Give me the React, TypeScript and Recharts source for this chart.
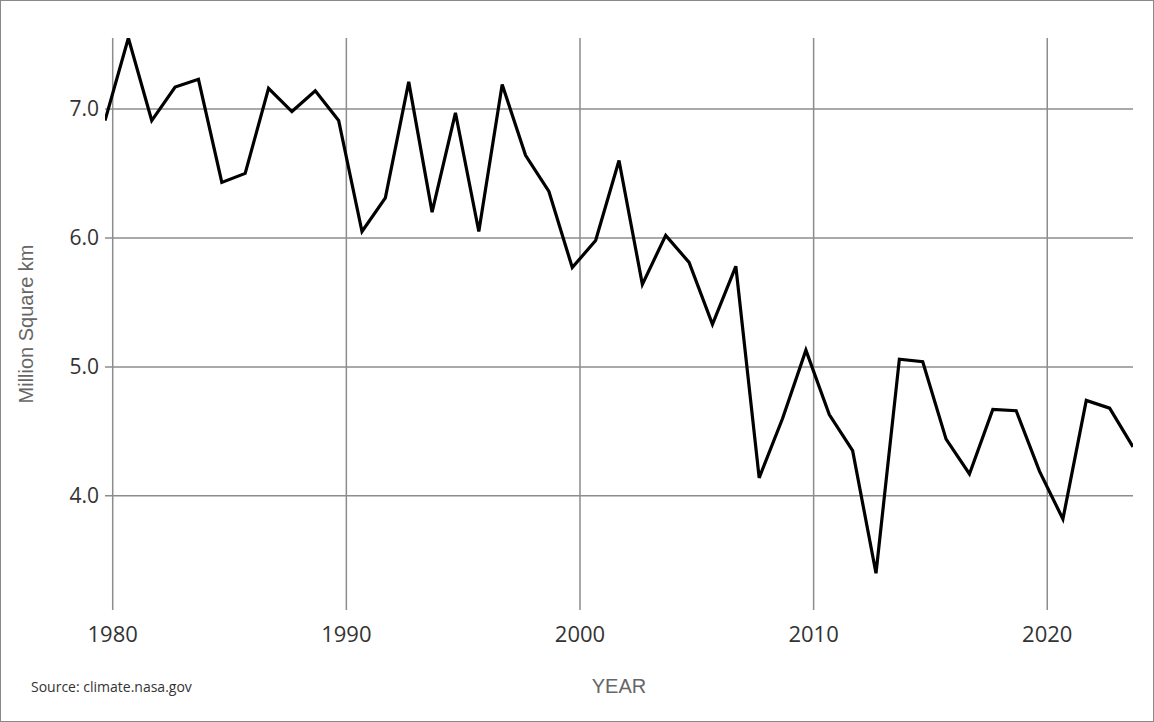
import React from "react";
import { LineChart, Line, XAxis, YAxis, ReferenceLine } from "recharts";

// Arctic sea ice minimum extent (million km²)
const years = [
  1979, 1980, 1981, 1982, 1983, 1984, 1985, 1986, 1987, 1988,
  1989, 1990, 1991, 1992, 1993, 1994, 1995, 1996, 1997, 1998,
  1999, 2000, 2001, 2002, 2003, 2004, 2005, 2006, 2007, 2008,
  2009, 2010, 2011, 2012, 2013, 2014, 2015, 2016, 2017, 2018,
  2019, 2020, 2021, 2022, 2023,
];
const extent = [
  6.91, 7.55, 6.91, 7.17, 7.23, 6.43, 6.5, 7.16, 6.98, 7.14,
  6.91, 6.05, 6.31, 7.21, 6.2, 6.97, 6.05, 7.19, 6.64, 6.36,
  5.77, 5.98, 6.6, 5.64, 6.02, 5.81, 5.33, 5.78, 4.14, 4.6,
  5.13, 4.63, 4.35, 3.4, 5.06, 5.04, 4.44, 4.17, 4.67, 4.66,
  4.19, 3.82, 4.74, 4.68, 4.38,
];
// minimum occurs in September: position within the year
const SEPT_OFFSET = 0.67;
const xTicks = [1980, 1990, 2000, 2010, 2020];
const yTicks = [4, 5, 6, 7];
const xLabel = "YEAR";
const yLabel = "Million Square km";
const sourceText = "Source: climate.nasa.gov";

const data = years.map((y, i) => ({ x: y + SEPT_OFFSET, v: extent[i] }));

const tickFont = "'Open Sans', 'Noto Sans', sans-serif";
const labelFont = "'Liberation Sans', Arial, sans-serif";
const gridColor = "#8c8c8c";

const XLabelContent = (props: any) => {
  const vb = props.viewBox || { x: 0, y: 0, width: 0, height: 0 };
  return (
    <g>
      <text
        x={vb.x + vb.width / 2}
        y={vb.y + 83}
        textAnchor="middle"
        fontFamily={labelFont}
        fontSize={20}
        fill="#666"
      >
        {xLabel}
      </text>
      <text x={30} y={vb.y + 82} textAnchor="start" fontFamily={tickFont} fontSize={14} fill="#333">
        {sourceText}
      </text>
    </g>
  );
};

const YLabelContent = (props: any) => {
  const vb = props.viewBox || { x: 0, y: 0, width: 0, height: 0 };
  const cx = vb.x + 24.5;
  const cy = vb.y + vb.height / 2;
  return (
    <text
      x={cx}
      y={cy}
      transform={`rotate(-90, ${cx}, ${cy})`}
      textAnchor="middle"
      dominantBaseline="central"
      fontFamily={labelFont}
      fontSize={20}
      fill="#666"
    >
      {yLabel}
    </text>
  );
};

export default function App() {
  return (
    <div
      style={{
        position: "absolute",
        left: 0,
        top: 0,
        width: 1154,
        height: 722,
        boxSizing: "border-box",
        border: "1px solid #8a8a8a",
        background: "#fff",
      }}
    >
      <LineChart
        width={1152}
        height={720}
        data={data}
        margin={{ top: 37, right: 20, bottom: 0, left: 0 }}
      >
        <XAxis
          dataKey="x"
          type="number"
          domain={[1979 + SEPT_OFFSET, 2023 + SEPT_OFFSET]}
          ticks={xTicks}
          allowDataOverflow
          axisLine={false}
          tickLine={false}
          tickSize={8}
          tickMargin={8}
          height={111}
          tick={{ fontSize: 22, fill: "#333", fontFamily: tickFont }}
          label={<XLabelContent />}
        />
        <YAxis
          type="number"
          domain={[3.115, 7.55]}
          ticks={yTicks}
          allowDataOverflow
          axisLine={false}
          tickLine={false}
          tickSize={4}
          tickMargin={2}
          width={104}
          tickFormatter={(v: number) => v.toFixed(1)}
          tick={{ fontSize: 21, fill: "#333", fontFamily: tickFont }}
          label={<YLabelContent />}
        />
        {yTicks.map((t) => (
          <ReferenceLine key={`y${t}`} y={t} stroke={gridColor} strokeWidth={1.5} />
        ))}
        {xTicks.map((t) => (
          <ReferenceLine key={`x${t}`} x={t} stroke={gridColor} strokeWidth={1.5} />
        ))}
        <Line
          type="linear"
          dataKey="v"
          stroke="#000"
          strokeWidth={3.2}
          strokeLinejoin="miter"
          dot={false}
          activeDot={false}
          isAnimationActive={false}
        />
      </LineChart>
    </div>
  );
}
